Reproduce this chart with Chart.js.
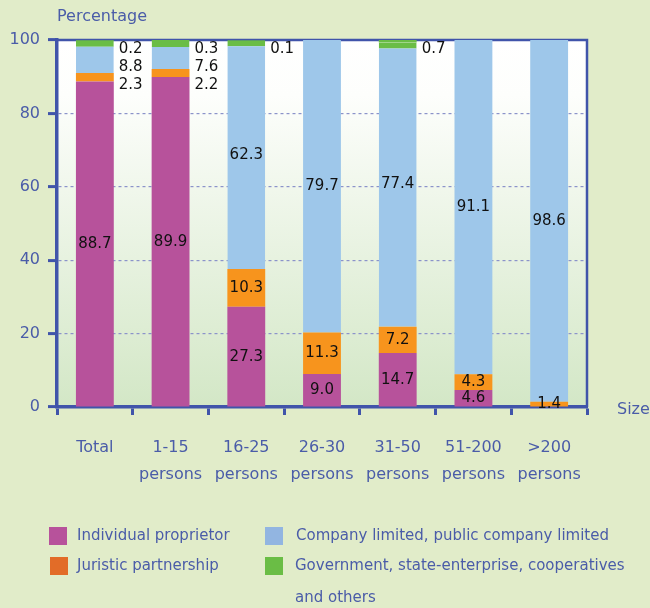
<!DOCTYPE html>
<html>
<head>
<meta charset="utf-8">
<script src="https://cdn.jsdelivr.net/npm/chart.js@4.4.1/dist/chart.umd.min.js"></script>
<style>
  html, body { margin: 0; padding: 0; background: #e1ecc9; }
  #wrap { position: relative; width: 650px; height: 608px; }
</style>
</head>
<body>
<div id="wrap"><canvas id="sizeChart"></canvas></div>
<script>
// data
const categories = ['Total', ['1-15', 'persons'], ['16-25', 'persons'], ['26-30', 'persons'],
    ['31-50', 'persons'], ['51-200', 'persons'], ['>200', 'persons']];
const individual = [88.7, 89.9, 27.3, 9.0, 14.7, 4.6, 0];
const juristic = [2.3, 2.2, 10.3, 11.3, 7.2, 4.3, 1.4];
const company = [8.8, 7.6, 62.3, 79.7, 77.4, 91.1, 98.6];
const government = [0.2, 0.3, 0.1, 0, 0.7, 0, 0];
const seriesNames = ['Individual proprietor', 'Juristic partnership',
    'Company limited, public company limited', 'Government, state-enterprise, cooperatives and others'];
const yTicks = [0, 20, 40, 60, 80, 100];

const FONT = "'DejaVu Sans', sans-serif";
const axisBlue = '#4054aa';
const textBlue = '#4a5ca8';
const barColors = ['#b7529b', '#f7941d', '#9ec7ea', '#6abd45'];
const legendColors = ['#b7529b', '#e26c28', '#92b5e1', '#6abd45'];

Chart.defaults.font.family = FONT;

// plot background: light green page, white-to-green gradient in the plot
const backdrop = {
    id: 'backdrop',
    beforeDraw(chart) {
        const { ctx, chartArea: a, width, height } = chart;
        ctx.save();
        ctx.fillStyle = '#e1ecc9';
        ctx.fillRect(0, 0, width, height);
        const g = ctx.createLinearGradient(0, a.top, 0, a.bottom);
        g.addColorStop(0, '#ffffff');
        g.addColorStop(0.15, '#fdfefc');
        g.addColorStop(1, '#d3e7c6');
        ctx.fillStyle = g;
        ctx.fillRect(a.left, a.top, a.right - a.left, a.bottom - a.top);
        ctx.restore();
    },
    beforeDatasetsDraw(chart) {
        // top and right frame lines
        const { ctx, chartArea: a } = chart;
        ctx.save();
        ctx.strokeStyle = axisBlue;
        ctx.lineWidth = 2.5;
        ctx.beginPath();
        ctx.moveTo(a.left, a.top);
        ctx.lineTo(a.right, a.top);
        ctx.lineTo(a.right, a.bottom);
        ctx.stroke();
        ctx.restore();
    }
};

// value labels: inside each segment, small ones near the top go to the right of the bar
const valueLabels = {
    id: 'valueLabels',
    afterDatasetsDraw(chart) {
        const { ctx, chartArea } = chart;
        const yScale = chart.scales.y;
        ctx.save();
        ctx.font = '15px ' + FONT;
        ctx.fillStyle = '#111111';
        ctx.textBaseline = 'middle';
        categories.forEach((c, i) => {
            const bar = chart.getDatasetMeta(0).data[i];
            let base = 0;
            const outside = [];
            chart.data.datasets.forEach((ds) => {
                const v = ds.data[i];
                if (v > 0) {
                    const top = base + v;
                    if (v < 10 && top > 85) {
                        outside.unshift(v);
                    } else {
                        ctx.textAlign = 'center';
                        ctx.fillText(v.toFixed(1), bar.x, yScale.getPixelForValue(base + v / 2));
                    }
                    base = top;
                }
            });
            ctx.textAlign = 'left';
            outside.forEach((v, k) => {
                ctx.fillText(v.toFixed(1), bar.x + bar.width / 2 + 5, chartArea.top + 9 + k * 18);
            });
        });
        ctx.restore();
    }
};

// axis titles and the two-column legend
const extras = {
    id: 'extras',
    afterDraw(chart) {
        const { ctx, chartArea } = chart;
        ctx.save();
        ctx.fillStyle = textBlue;
        ctx.textBaseline = 'middle';
        ctx.textAlign = 'left';
        ctx.font = '16px ' + FONT;
        ctx.fillText('Percentage', chartArea.left, 17);
        ctx.fillText('Size', chartArea.right + 30, chartArea.bottom + 3);

        ctx.font = '15px ' + FONT;
        const slots = [
            { ds: 0, x: 49, y: 536, tx: 77 },
            { ds: 2, x: 265, y: 536, tx: 296 },
            { ds: 1, x: 50, y: 566, tx: 77 },
            { ds: 3, x: 265, y: 566, tx: 295 }
        ];
        slots.forEach(s => {
            ctx.fillStyle = legendColors[s.ds];
            ctx.fillRect(s.x, s.y - 9, 18, 18);
            ctx.fillStyle = textBlue;
            // simple word wrap
            const words = chart.data.datasets[s.ds].label.split(' ');
            let line = '';
            let ly = s.y;
            words.forEach(w => {
                const test = line ? line + ' ' + w : w;
                if (ctx.measureText(test).width > 340 && line) {
                    ctx.fillText(line, s.tx, ly);
                    line = w;
                    ly += 32;
                } else {
                    line = test;
                }
            });
            ctx.fillText(line, s.tx, ly);
        });
        ctx.restore();
    }
};

const ctx = document.getElementById('sizeChart').getContext('2d');
const chart = new Chart(ctx, {
    type: 'bar',
    data: {
        labels: categories,
        datasets: [
            { label: seriesNames[0], data: individual, backgroundColor: barColors[0] },
            { label: seriesNames[1], data: juristic, backgroundColor: barColors[1] },
            {
                label: seriesNames[2], data: company, backgroundColor: barColors[2],
                // green cap shown on top of the blue part where a government share exists
                borderColor: barColors[3],
                borderWidth: c => ({ top: government[c.dataIndex] > 0 ? 6 : 0, left: 0, right: 0, bottom: 0 })
            },
            { label: seriesNames[3], data: government, backgroundColor: barColors[3] }
        ]
    },
    options: {
        responsive: true,
        maintainAspectRatio: false,
        animation: false,
        layout: { padding: { left: 0, top: 40, right: 63, bottom: 0 } },
        datasets: { bar: { categoryPercentage: 1, barPercentage: 0.5, borderWidth: 0 } },
        plugins: { legend: { display: false }, tooltip: { enabled: false } },
        scales: {
            x: {
                stacked: true,
                ticks: { color: textBlue, font: { size: 16, lineHeight: 1.7 }, padding: 19, maxRotation: 0 },
                grid: { offset: true, drawOnChartArea: false, tickLength: 8, tickWidth: 3, tickColor: axisBlue, color: axisBlue },
                border: { color: axisBlue, width: 3.5 },
                afterFit: s => { s.height = 201; }
            },
            y: {
                stacked: true,
                min: 0,
                max: 100,
                afterBuildTicks: s => { s.ticks = yTicks.map(v => ({ value: v })); },
                ticks: { color: textBlue, font: { size: 16 }, padding: 8 },
                grid: {
                    color: c => (c.tick && (c.tick.value === 0 || c.tick.value === 100)) ? 'rgba(0,0,0,0)' : '#8b93ca',
                    lineWidth: 1.2, tickLength: 9, tickWidth: 3, tickColor: axisBlue
                },
                border: { color: axisBlue, width: 3.5, dash: [3, 3] },
                afterFit: s => { s.width = 57; }
            }
        }
    },
    plugins: [backdrop, valueLabels, extras]
});
</script>
</body>
</html>
